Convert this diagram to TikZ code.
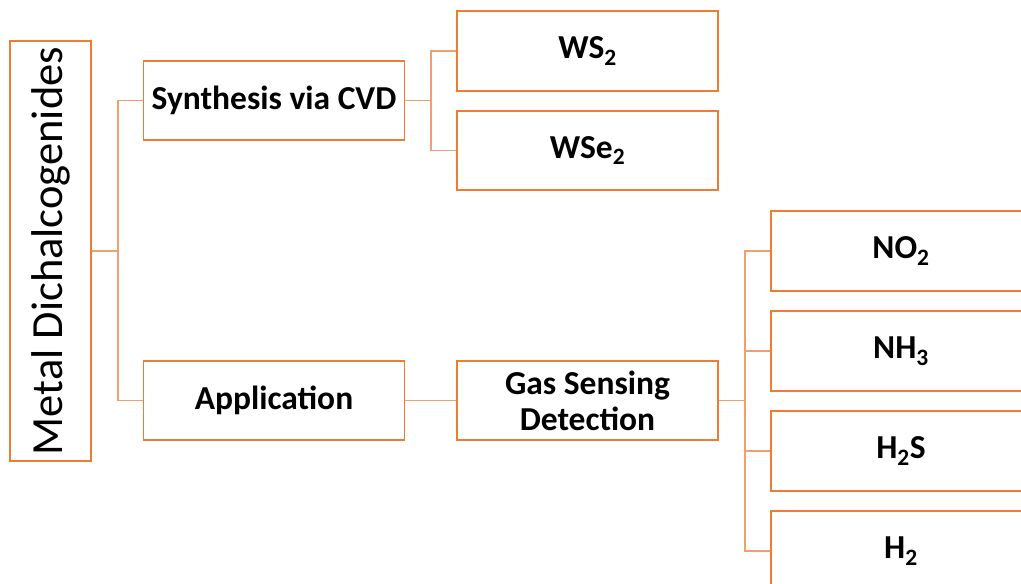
\documentclass[tikz,border=0pt]{standalone}
\usepackage{fontspec}
\setmainfont{Carlito}
\definecolor{boxorange}{RGB}{237,125,49}
\definecolor{linkorange}{RGB}{240,160,110}
\begin{document}
\begin{tikzpicture}[x=1pt,y=-1pt,
    box/.style={draw=boxorange,line width=1.3pt,fill=white,inner sep=0pt,
        minimum width=261pt,minimum height=80pt,align=center,
        font=\fontsize{33.5}{36}\selectfont\bfseries},
    link/.style={draw=linkorange,line width=1.3pt}]
    \useasboundingbox (0,0) rectangle (1021,584);
    \clip (0,0) rectangle (1021,584);

    % root
    \node[box,minimum width=81pt,minimum height=420pt,font=\fontsize{44.5}{48}\selectfont]
        (metal) at (50.5,251) {\rotatebox{90}{Metal Dichalcogenides}};

    % second level
    \node[box,minimum height=79pt] (cvd) at (274,100.5) {Synthesis via CVD};
    \node[box,minimum height=79pt] (app) at (274,400.5) {Application};

    % third level
    \node[box] (ws) at (587.5,51) {WS\textsubscript{2}};
    \node[box,minimum height=79pt] (wse) at (587.5,150.5) {WSe\textsubscript{2}};
    \node[box,minimum height=79pt] (gas) at (587.5,400.5) {Gas Sensing\\Detection};

    % gases
    \node[box,minimum width=260pt] (no) at (901,251) {NO\textsubscript{2}};
    \node[box,minimum width=260pt] (nh) at (901,351) {NH\textsubscript{3}};
    \node[box,minimum width=260pt] (hs) at (901,451) {H\textsubscript{2}S};
    \node[box,minimum width=260pt] (hh) at (901,551) {H\textsubscript{2}};

    \coordinate (j1) at (118,251);
    \coordinate (j2) at (431,100.5);
    \coordinate (j3) at (745,400.5);

    \draw[link] (metal.east) -- (j1);
    \draw[link] (cvd.west) -| (j1) |- (app.west);
    \draw[link] (cvd.east) -- (j2);
    \draw[link] (ws.west) -| (j2) |- (wse.west);
    \draw[link] (app.east) -- (gas.west);
    \draw[link] (gas.east) -- (j3);
    \draw[link] (no.west) -| (j3) |- (hh.west);
    \draw[link] (nh.west) -- (nh.west -| j3);
    \draw[link] (hs.west) -- (hs.west -| j3);
\end{tikzpicture}
\end{document}
